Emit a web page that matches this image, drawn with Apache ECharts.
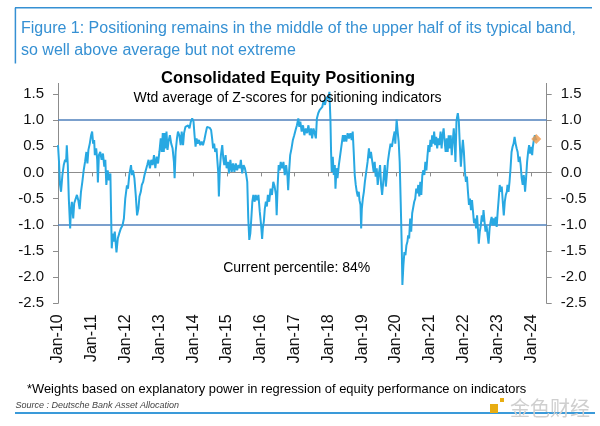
<!DOCTYPE html>
<html>
<head>
<meta charset="utf-8">
<script src="https://cdn.jsdelivr.net/npm/echarts@6/dist/echarts.min.js"></script>
<style>
html,body{margin:0;padding:0;background:#fff;}
#chart{width:600px;height:426px;}
</style>
</head>
<body>
<div id="chart"></div>
<script>
// Decimal-year dates of the readings
const years = [
2010.00,2010.03,2010.06,2010.09,2010.13,2010.17,2010.21,2010.24,2010.26,2010.29,2010.32,2010.36,2010.38,2010.41,2010.45,2010.48,2010.52,2010.56,2010.60,2010.64,2010.68,2010.72,2010.76,2010.80,2010.84,2010.87,2010.90,2010.94,2010.98,
2011.01,2011.04,2011.07,2011.09,2011.13,2011.16,2011.18,2011.21,2011.25,2011.29,2011.33,2011.37,2011.40,2011.43,2011.47,2011.51,2011.55,2011.57,2011.59,2011.62,2011.65,2011.68,2011.73,2011.77,2011.81,2011.86,2011.91,2011.95,2011.99,
2012.04,2012.07,2012.11,2012.16,2012.19,2012.22,2012.26,2012.30,2012.34,2012.38,2012.41,2012.45,2012.48,2012.52,2012.56,2012.60,2012.64,2012.68,2012.72,2012.76,2012.80,2012.84,2012.88,2012.92,2012.96,
2013.00,2013.04,2013.07,2013.10,2013.13,2013.16,2013.19,2013.21,2013.24,2013.27,2013.31,2013.35,2013.39,2013.43,2013.45,2013.48,2013.52,2013.55,2013.59,2013.63,2013.66,2013.70,2013.73,2013.77,2013.81,2013.85,2013.89,2013.93,2013.97,
2014.01,2014.04,2014.07,2014.10,2014.13,2014.17,2014.21,2014.25,2014.29,2014.33,2014.37,2014.41,2014.45,2014.49,2014.53,2014.56,2014.59,2014.62,2014.65,2014.69,2014.71,2014.74,2014.76,2014.79,2014.82,2014.86,2014.89,2014.92,2014.96,2014.99,
2015.03,2015.06,2015.10,2015.14,2015.18,2015.22,2015.26,2015.30,2015.34,2015.38,2015.41,2015.45,2015.49,2015.53,2015.57,2015.60,2015.63,2015.66,2015.69,2015.72,2015.75,2015.78,2015.82,2015.85,2015.89,2015.93,2015.97,
2016.01,2016.04,2016.06,2016.09,2016.12,2016.15,2016.18,2016.21,2016.25,2016.29,2016.33,2016.37,2016.41,2016.45,2016.47,2016.50,2016.53,2016.56,2016.59,2016.63,2016.67,2016.71,2016.75,2016.79,2016.81,2016.84,2016.87,2016.91,2016.95,2016.99,
2017.03,2017.07,2017.11,2017.14,2017.17,2017.21,2017.25,2017.29,2017.33,2017.37,2017.41,2017.45,2017.49,2017.52,2017.56,2017.60,2017.63,2017.66,2017.70,2017.74,2017.78,2017.82,2017.86,2017.90,2017.94,2017.98,
2018.01,2018.03,2018.06,2018.08,2018.10,2018.13,2018.16,2018.19,2018.21,2018.24,2018.27,2018.31,2018.35,2018.39,2018.43,2018.46,2018.49,2018.53,2018.57,2018.61,2018.65,2018.69,2018.72,2018.75,2018.78,2018.81,2018.84,2018.87,2018.90,2018.92,2018.95,2018.97,2018.99,
2019.02,2019.05,2019.08,2019.12,2019.16,2019.20,2019.23,2019.26,2019.30,2019.34,2019.37,2019.40,2019.43,2019.46,2019.49,2019.53,2019.56,2019.59,2019.62,2019.65,2019.67,2019.70,2019.73,2019.76,2019.80,2019.84,2019.88,2019.92,2019.96,2019.98,
2020.02,2020.05,2020.08,2020.11,2020.14,2020.17,2020.19,2020.22,2020.25,2020.28,2020.31,2020.34,2020.36,2020.39,2020.42,2020.45,2020.48,2020.51,2020.54,2020.57,2020.60,2020.63,2020.66,2020.69,2020.72,2020.75,2020.78,2020.81,2020.84,2020.87,2020.90,2020.93,2020.96,2020.99,
2021.02,2021.05,2021.07,2021.10,2021.13,2021.16,2021.19,2021.22,2021.25,2021.28,2021.32,2021.35,2021.38,2021.41,2021.44,2021.47,2021.50,2021.53,2021.56,2021.59,2021.62,2021.65,2021.68,2021.71,2021.74,2021.76,2021.79,2021.81,2021.83,2021.86,2021.89,2021.92,2021.95,2021.98,
2022.01,2022.04,2022.07,2022.10,2022.13,2022.16,2022.19,2022.22,2022.25,2022.28,2022.31,2022.34,2022.37,2022.40,2022.43,2022.45,2022.48,2022.51,2022.54,2022.57,2022.59,2022.62,2022.65,2022.68,2022.71,2022.74,2022.77,2022.80,2022.83,2022.86,2022.89,2022.92,2022.95,2022.98,
2023.01,2023.04,2023.07,2023.10,2023.13,2023.16,2023.19,2023.22,2023.25,2023.28,2023.30,2023.33,2023.36,2023.39,2023.42,2023.45,2023.48,2023.51,2023.54,2023.57,2023.60,2023.63,2023.66,2023.69,2023.72,2023.75,2023.78,2023.80,2023.82,2023.85,2023.88,2023.91,2023.94,2023.97,
2024.00,2024.03,2024.05,2024.08,2024.11,2024.14,2024.16
];
// Weighted average Z-score readings
const positioning = [
0.52,0.20,-0.24,-0.37,-0.05,0.14,0.24,0.20,0.52,0.14,-0.50,-1.07,-0.75,-0.56,-0.88,-0.59,-0.62,-0.43,-0.53,-0.70,-0.37,-0.18,0.04,0.20,0.39,0.17,0.43,0.55,0.71,
0.78,0.55,0.62,0.33,0.46,0.24,-0.19,0.33,0.39,0.24,0.36,0.11,0.24,-0.24,0.04,-0.15,-0.02,-0.75,-1.45,-1.17,-1.32,-1.13,-1.53,-1.26,-1.17,-1.07,-1.01,-0.88,-0.50,
-0.25,-0.31,-0.05,0.14,-0.05,0.04,-0.11,-0.43,-0.82,-0.69,-0.46,-0.37,-0.24,-0.18,-0.05,-0.06,0.14,0.24,0.08,0.24,0.14,0.33,0.08,0.30,0.17,
0.39,0.65,0.39,0.75,0.39,0.75,0.46,0.78,0.43,0.59,0.71,0.55,0.46,0.20,-0.11,0.39,0.65,0.78,0.71,0.52,0.78,0.52,0.75,0.87,0.84,0.90,0.84,0.97,1.03,
0.97,0.71,0.49,0.65,0.55,0.62,0.52,0.59,0.52,0.62,0.75,0.87,0.89,0.85,0.81,0.65,0.46,0.55,0.39,0.46,0.27,0.01,-0.46,0.08,0.33,0.52,0.27,0.14,0.33,0.08,
0.20,-0.02,0.24,0.01,0.17,0.01,0.17,0.04,0.14,0.08,0.24,-0.02,0.14,0.08,-0.05,-0.18,-0.88,-1.29,-1.17,-0.88,-0.56,-0.43,-0.56,-0.43,-0.53,-0.43,-0.75,
-1.01,-1.27,-1.07,-0.94,-0.69,-0.56,-0.65,-0.43,-0.56,-0.31,-0.43,-0.18,-0.27,-0.43,-0.82,-0.24,0.14,0.04,0.20,0.08,0.20,-0.05,0.14,-0.08,-0.34,0.04,0.33,0.46,0.62,0.71,
0.81,0.90,1.03,0.87,0.97,0.78,0.90,0.71,0.84,0.75,0.90,0.71,0.84,0.65,0.84,0.87,0.65,1.03,1.13,1.19,1.16,1.25,1.38,1.29,1.41,1.45,
1.40,1.54,1.03,0.39,0.01,0.30,-0.05,0.14,-0.31,0.08,-0.11,0.14,0.33,0.52,0.71,0.59,0.71,0.59,0.75,0.65,0.75,0.62,0.78,0.39,-0.05,-0.24,-0.37,-0.46,-0.37,-0.53,-0.62,-1.07,-0.69,
-0.50,-0.37,-0.18,0.01,0.20,0.46,0.27,0.39,0.20,0.01,0.20,-0.08,0.08,-0.24,-0.05,0.14,-0.24,-0.43,-0.21,0.01,0.14,-0.27,-0.05,0.20,0.39,0.55,0.49,0.65,0.78,0.55,
1.01,0.78,0.59,0.20,-0.56,-1.39,-2.15,-1.77,-1.52,-1.58,-1.39,-1.32,-1.20,-1.26,-0.88,-1.13,-0.78,-0.75,-0.56,-0.50,-0.31,-0.40,-0.24,-0.46,-0.18,-0.43,-0.05,0.04,-0.05,0.20,0.04,0.30,0.52,0.39,
0.62,0.49,0.71,0.55,0.78,0.52,0.68,0.46,0.65,0.52,0.78,0.46,0.71,0.84,0.59,0.39,0.65,0.39,0.71,0.46,0.71,0.33,0.59,0.84,0.52,0.20,0.97,1.06,1.13,0.97,0.52,0.11,0.39,0.62,
0.39,0.01,-0.18,-0.08,-0.37,-0.62,-0.50,-0.72,-0.53,-0.75,-0.97,-0.88,-1.07,-0.82,-1.13,-1.36,-1.13,-1.01,-0.82,-0.94,-0.72,-0.94,-1.13,-1.01,-1.20,-1.36,-1.07,-0.94,-0.85,-1.01,-0.88,-1.01,-0.85,-1.04,
-0.75,-0.50,-0.24,-0.37,-0.27,-0.56,-0.82,-0.56,-0.43,-0.37,-0.24,-0.37,-0.18,0.08,0.39,0.49,0.55,0.68,0.55,0.46,0.39,0.20,0.30,0.14,-0.11,-0.24,-0.05,-0.18,-0.37,-0.11,0.20,0.39,0.52,0.36,
0.49,0.33,0.49,0.62,0.71,0.62,0.65
];
const latestPoint = [2024.15, 0.64];
const tickYears = [2010,2011,2012,2013,2014,2015,2016,2017,2018,2019,2020,2021,2022,2023,2024];
const yTicks = [-2.5,-2.0,-1.5,-1.0,-0.5,0.0,0.5,1.0,1.5];
const bandLevels = [1.0, -1.0];

const seriesData = years.map((y, i) => [y, positioning[i]]);
const FONT = 'Liberation Sans, Arial, sans-serif';
const BLUE = '#3590d3';
const AXIS = '#8c8c8c';

const chart = echarts.init(document.getElementById('chart'), null, {renderer: 'canvas'});
const yAxisBase = {
  type: 'value', min: -2.5, max: 1.7,
  axisLine: {show: true, lineStyle: {color: AXIS, width: 1}},
  axisTick: {show: true, length: 5, customValues: yTicks, lineStyle: {color: AXIS}},
  axisLabel: {customValues: yTicks, formatter: v => v.toFixed(1), margin: 14, fontSize: 15, color: '#111', fontFamily: FONT},
  splitLine: {show: false}
};
chart.setOption({
  animation: false,
  backgroundColor: '#fff',
  grid: {left: 58, right: 53.3, top: 83.4, bottom: 122.7, containLabel: false},
  xAxis: [
    {
      type: 'value', min: 2010, max: 2024.46, position: 'bottom',
      axisLine: {show: true, onZero: true, lineStyle: {color: AXIS, width: 1}},
      axisTick: {show: true, length: 4, customValues: tickYears, lineStyle: {color: AXIS}},
      axisLabel: {show: false},
      splitLine: {show: false}
    },
    {
      type: 'value', min: 2010, max: 2024.46, position: 'bottom',
      axisLine: {show: false, onZero: false},
      axisTick: {show: false},
      axisLabel: {customValues: tickYears, rotate: 90, margin: 11, fontSize: 16, color: '#111', fontFamily: FONT,
        formatter: v => 'Jan-' + String(v).slice(2)},
      splitLine: {show: false}
    }
  ],
  yAxis: [
    Object.assign({}, yAxisBase, {position: 'left'}),
    Object.assign({}, yAxisBase, {position: 'right'})
  ],
  series: [
    {
      type: 'line', data: seriesData, showSymbol: false, symbol: 'none', z: 3,
      lineStyle: {color: '#28a8e2', width: 2},
      markLine: {
        silent: true, symbol: 'none', z: 1, animation: false,
        label: {show: false},
        lineStyle: {color: '#4f80bd', width: 1.5, type: 'solid'},
        data: bandLevels.map(v => ({yAxis: v}))
      }
    },
    {
      type: 'scatter', data: [latestPoint], symbol: 'diamond', symbolSize: 10, z: 4,
      itemStyle: {color: '#f0994a'}
    }
  ],
  graphic: [
    {type: 'line', shape: {x1: 15, y1: 7.7, x2: 592, y2: 7.7}, style: {stroke: BLUE, lineWidth: 1.5}},
    {type: 'line', shape: {x1: 15.4, y1: 7.7, x2: 15.4, y2: 63.5}, style: {stroke: BLUE, lineWidth: 1.5}},
    {type: 'text', x: 21, y: 28.8, style: {text: 'Figure 1: Positioning remains in the middle of the upper half of its typical band,', fill: BLUE, font: '16px ' + FONT, textAlign: 'left', textVerticalAlign: 'middle', align: 'left', verticalAlign: 'middle'}},
    {type: 'text', x: 21, y: 51, style: {text: 'so well above average but not extreme', fill: BLUE, font: '16px ' + FONT, textAlign: 'left', textVerticalAlign: 'middle', align: 'left', verticalAlign: 'middle'}},
    {type: 'text', x: 288, y: 78.3, z: 10, style: {text: 'Consolidated Equity Positioning', fill: '#000', font: 'bold 16.5px ' + FONT, textAlign: 'center', textVerticalAlign: 'middle', align: 'center', verticalAlign: 'middle'}},
    {type: 'text', x: 287.5, y: 98.3, z: 10, style: {text: 'Wtd average of Z-scores for positioning indicators', fill: '#000', font: '14px ' + FONT, textAlign: 'center', textVerticalAlign: 'middle', align: 'center', verticalAlign: 'middle'}},
    {type: 'text', x: 296.7, y: 268.3, z: 10, style: {text: 'Current percentile: 84%', fill: '#000', font: '14px ' + FONT, textAlign: 'center', textVerticalAlign: 'middle', align: 'center', verticalAlign: 'middle'}},
    {type: 'text', x: 27, y: 389, style: {text: '*Weights based on explanatory power in regression of equity performance on indicators', fill: '#000', font: '12.9px ' + FONT, textAlign: 'left', textVerticalAlign: 'middle', align: 'left', verticalAlign: 'middle'}},
    {type: 'text', x: 15.4, y: 405, style: {text: 'Source : Deutsche Bank Asset Allocation', fill: '#444', font: 'italic 9px ' + FONT, textAlign: 'left', textVerticalAlign: 'middle', align: 'left', verticalAlign: 'middle'}},
    {type: 'line', shape: {x1: 15, y1: 413, x2: 595, y2: 413}, style: {stroke: '#3a9ad9', lineWidth: 2}},
    {type: 'rect', shape: {x: 490, y: 404, width: 8, height: 9}, style: {fill: '#e8ad12'}},
    {type: 'rect', shape: {x: 500, y: 398, width: 4, height: 4}, style: {fill: '#e8ad12'}},
    {type: 'text', x: 510, y: 408, z: 10, style: {text: '金色财经', fill: '#cfcfcf', font: '20px "Noto Sans CJK SC"', textAlign: 'left', textVerticalAlign: 'middle', align: 'left', verticalAlign: 'middle'}}
  ]
});
</script>
</body>
</html>
